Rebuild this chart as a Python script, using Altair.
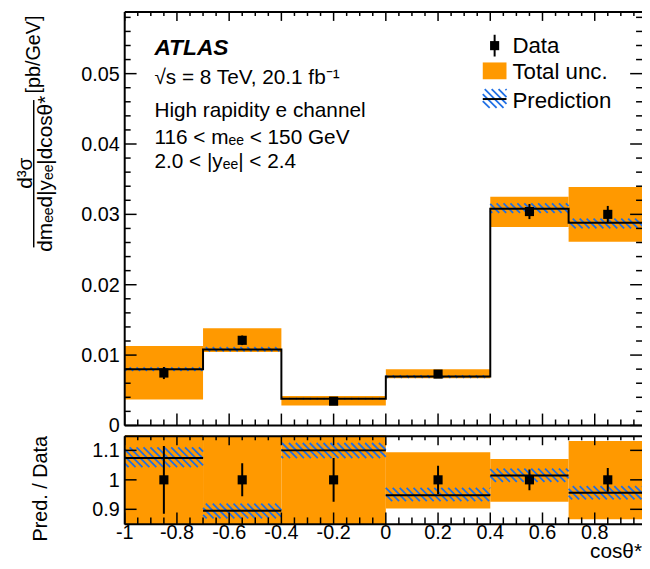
import altair as alt
import pandas as pd
import numpy as np

# ---------------- data ----------------
bin_lo = [-1.0, -0.7, -0.4, 0.0, 0.4, 0.7]
bin_hi = [-0.7, -0.4, 0.0, 0.4, 0.7, 1.0]
bin_center = [-0.85, -0.55, -0.2, 0.2, 0.55, 0.85]
step_edges = [-1.0, -0.7, -0.4, 0.0, 0.4, 0.7, 1.0]

data_xs = [0.00745, 0.0121, 0.00345, 0.0073, 0.0304, 0.0300]
data_err = [0.00086, 0.00068, 0.00026, 0.00035, 0.00107, 0.0012]
unc_lo = [0.0037, 0.01045, 0.00285, 0.0067, 0.0282, 0.0261]
unc_hi = [0.0113, 0.0138, 0.0042, 0.0080, 0.0325, 0.0339]
pred = [0.0080, 0.0108, 0.0038, 0.00694, 0.0308, 0.0288]
pred_lo = [0.00777, 0.01051, 0.00371, 0.00677, 0.0302, 0.0280]
pred_hi = [0.00827, 0.01112, 0.00388, 0.0071, 0.03156, 0.0294]

ratio_pred = [1.074, 0.895, 1.100, 0.948, 1.015, 0.956]
ratio_pred_lo = [1.043, 0.869, 1.074, 0.928, 0.993, 0.934]
ratio_pred_hi = [1.110, 0.919, 1.125, 0.973, 1.038, 0.979]
ratio_data = [1.0, 1.0, 1.0, 1.0, 1.0, 1.0]
ratio_data_err = [0.115, 0.056, 0.074, 0.048, 0.035, 0.040]
ratio_unc_lo = [0.50, 0.84, 0.82, 0.903, 0.926, 0.866]
ratio_unc_hi = [1.50, 1.145, 1.22, 1.094, 1.071, 1.132]

x_major = [-1.0, -0.8, -0.6, -0.4, -0.2, 0.0, 0.2, 0.4, 0.6, 0.8]
x_major_labels = ["-1", "-0.8", "-0.6", "-0.4", "-0.2", "0", "0.2", "0.4", "0.6", "0.8"]
x_minor = [v for v in np.round(np.arange(-1.0, 0.98, 0.05), 2)
           if not any(abs(v - m) < 1e-9 for m in x_major)]
y1_major = [0.0, 0.01, 0.02, 0.03, 0.04, 0.05]
y1_labels = ["0", "0.01", "0.02", "0.03", "0.04", "0.05"]
y1_minor = [v for v in np.round(np.arange(0.0, 0.0589, 0.002), 3)
            if not any(abs(v - m) < 1e-9 for m in y1_major)]
y2_major = [0.9, 1.0, 1.1]
y2_labels = ["0.9", "1", "1.1"]

# ---------------- geometry / style ----------------
W, H1, H2 = 523, 419, 90
LEFT = 118
PX_PER_X = 264.0
X_DOM = [-1.0, -1.0 + W / PX_PER_X]
Y1_DOM = [0.0, 0.0589]
Y2_DOM = [0.849, 1.151]
SX = PX_PER_X
SY1 = H1 / (Y1_DOM[1] - Y1_DOM[0])
SY2 = H2 / (Y2_DOM[1] - Y2_DOM[0])
ORANGE = "#FF9900"
BLUE = "#1f6fe5"
FONT = "Liberation Sans"

xs = alt.Scale(domain=X_DOM, nice=False, zero=False)
y1s = alt.Scale(domain=Y1_DOM, nice=False, zero=False)
y2s = alt.Scale(domain=Y2_DOM, nice=False, zero=False)


def hatch(lo_x, hi_x, lo_y, hi_y, sx, sy, spacing=7.0):
    rows = []
    for xl, xr, a, b in zip(lo_x, hi_x, lo_y, hi_y):
        h = (b - a) * sy
        xl_px, xr_px = xl * sx, xr * sx
        c = np.floor((xl_px - h) / spacing) * spacing
        while c < xr_px:
            t0 = max(0.0, (xl_px - c) / h)
            t1 = min(1.0, (xr_px - c) / h)
            if t1 > t0:
                rows.append(dict(x=(c + t0 * h) / sx, x2=(c + t1 * h) / sx,
                                 y=b - t0 * (b - a), y2=b - t1 * (b - a)))
            c += spacing
    return pd.DataFrame(rows)


def hatch_px(x0, x1, y0, y1, spacing=7.0):
    rows = []
    h = y1 - y0
    c = np.floor((x0 - h) / spacing) * spacing
    while c < x1:
        t0 = max(0.0, (x0 - c) / h)
        t1 = min(1.0, (x1 - c) / h)
        if t1 > t0:
            rows.append(dict(x=c + t0 * h, x2=c + t1 * h, y=y0 + t0 * h, y2=y0 + t1 * h))
        c += spacing
    return pd.DataFrame(rows)


one = pd.DataFrame({"a": [0]})

bins = pd.DataFrame(dict(lo=bin_lo, hi=bin_hi, c=bin_center,
                         d=data_xs, dlo=[v - e for v, e in zip(data_xs, data_err)],
                         dhi=[v + e for v, e in zip(data_xs, data_err)],
                         ulo=unc_lo, uhi=unc_hi,
                         r=ratio_pred, rd=ratio_data,
                         rdlo=[v - e for v, e in zip(ratio_data, ratio_data_err)],
                         rdhi=[v + e for v, e in zip(ratio_data, ratio_data_err)],
                         rulo=ratio_unc_lo, ruhi=ratio_unc_hi))
step_df = pd.DataFrame(dict(x=step_edges, y=pred + [pred[-1]]))
hatch_top = hatch(bin_lo, bin_hi, pred_lo, pred_hi, SX, SY1)
hatch_bot = hatch(bin_lo, bin_hi, ratio_pred_lo, ratio_pred_hi, SX, SY2)
leg_hatch = hatch_px(362, 386, 79, 98)


def X(f):
    return alt.X(f, scale=xs, axis=None)


def xticks(vals, length, height):
    df = pd.DataFrame({"v": vals})
    base = alt.Chart(df).mark_rule(color="black", strokeWidth=1.5)
    return [base.encode(x=X("v:Q"), y=alt.value(1), y2=alt.value(length[0])),
            base.encode(x=X("v:Q"), y=alt.value(height), y2=alt.value(height - length[1]))]


def yticks(vals, length, yscale):
    df = pd.DataFrame({"v": vals})
    base = alt.Chart(df).mark_rule(color="black", strokeWidth=1.5)
    Y = alt.Y("v:Q", scale=yscale, axis=None)
    return [base.encode(y=Y, x=alt.value(0), x2=alt.value(length)),
            base.encode(y=Y, x=alt.value(W), x2=alt.value(W - length))]


def ylabels(vals, labels, yscale):
    df = pd.DataFrame({"v": vals, "t": labels})
    return alt.Chart(df).mark_text(font=FONT, fontSize=20, color="black", align="right",
                                   baseline="middle", dy=1).encode(
        y=alt.Y("v:Q", scale=yscale, axis=None), x=alt.value(-5), text="t:N")


def frame(height):
    return [
        alt.Chart(one).mark_rule(color="black", strokeWidth=2).encode(
            x=alt.value(0), x2=alt.value(W), y=alt.value(1)),
        alt.Chart(one).mark_rule(color="black", strokeWidth=2).encode(
            x=alt.value(0), x2=alt.value(W), y=alt.value(height)),
        alt.Chart(one).mark_rule(color="black", strokeWidth=2).encode(
            x=alt.value(0), y=alt.value(1), y2=alt.value(height)),
    ]


def txt(text, x, y, size=21, **kw):
    return alt.Chart(one).mark_text(text=text, font=FONT, fontSize=size, color="black",
                                    align=kw.pop("align", "left"),
                                    baseline=kw.pop("baseline", "alphabetic"),
                                    **kw).encode(x=alt.value(x), y=alt.value(y))

# ---------------- top panel ----------------
Y1 = lambda f: alt.Y(f, scale=y1s, axis=None)

t_unc = alt.Chart(bins).mark_rect(color=ORANGE, clip=True).encode(
    x=X("lo:Q"), x2="hi:Q", y=Y1("ulo:Q"), y2="uhi:Q")
t_hatch = alt.Chart(hatch_top).mark_rule(color=BLUE, strokeWidth=1.8, clip=True).encode(
    x=X("x:Q"), x2="x2:Q", y=Y1("y:Q"), y2="y2:Q")
t_step = alt.Chart(step_df).mark_line(interpolate="step-after", color="black",
                                      strokeWidth=2, clip=True).encode(
    x=X("x:Q"), y=Y1("y:Q"))
t_err = alt.Chart(bins).mark_rule(color="black", strokeWidth=2).encode(
    x=X("c:Q"), y=Y1("dlo:Q"), y2="dhi:Q")
t_pts = alt.Chart(bins).mark_square(color="black", size=85, opacity=1).encode(
    x=X("c:Q"), y=Y1("d:Q"))

t_ticks = (xticks(x_major, (10, 12), H1) + xticks(x_minor, (5, 6), H1)
           + yticks(y1_major, 12, y1s) + yticks(y1_minor, 6, y1s))

t_text = [
    ylabels(y1_major, y1_labels, y1s),
    txt("ATLAS", 30, 44, size=23, fontStyle="italic", fontWeight="bold"),
    txt("\u221as = 8 TeV, 20.1 fb\u207b\u00b9", 30, 74),
    txt("High rapidity e channel", 30, 107),
    txt("116 < m\u2091\u2091 < 150 GeV", 30, 134),
    txt("2.0 < |y\u2091\u2091| < 2.4", 30, 159),
    txt("Data", 392, 42, size=22.5),
    txt("Total unc.", 392, 69, size=22.5),
    txt("Prediction", 392, 98, size=22.5),
    txt("d\u00b3\u03c3", -94, 164, angle=270, align="center"),
    txt("dm\u2091\u2091d|y\u2091\u2091|dcos\u03b8*", -74, 164.5, angle=270, align="center"),
    txt("[pb/GeV]", -86, 44, size=20, angle=270, align="center"),
]
t_misc = [
    alt.Chart(one).mark_rule(color="black", strokeWidth=1.5).encode(
        x=alt.value(-92), y=alt.value(90), y2=alt.value(239)),
    alt.Chart(one).mark_rule(color="black", strokeWidth=2).encode(
        x=alt.value(374), y=alt.value(24), y2=alt.value(46)),
    alt.Chart(one).mark_square(color="black", size=85, opacity=1).encode(
        x=alt.value(374), y=alt.value(35)),
    alt.Chart(one).mark_rect(color=ORANGE).encode(
        x=alt.value(362), x2=alt.value(386), y=alt.value(52), y2=alt.value(69)),
    alt.Chart(leg_hatch).mark_rule(color=BLUE, strokeWidth=1.8).encode(
        x=alt.X("x:Q", scale=None, axis=None), x2="x2:Q",
        y=alt.Y("y:Q", scale=None, axis=None), y2="y2:Q"),
    alt.Chart(one).mark_rule(color="black", strokeWidth=2).encode(
        x=alt.value(362), x2=alt.value(386), y=alt.value(89)),
]

top = alt.layer(t_unc, t_hatch, t_step, t_err, t_pts, *t_ticks, *frame(H1),
                *t_text, *t_misc).properties(width=W, height=H1)

# ---------------- ratio panel ----------------
Y2 = lambda f: alt.Y(f, scale=y2s, axis=None)

b_unc = alt.Chart(bins).mark_rect(color=ORANGE, clip=True).encode(
    x=X("lo:Q"), x2="hi:Q", y=Y2("rulo:Q"), y2="ruhi:Q")
b_hatch = alt.Chart(hatch_bot).mark_rule(color=BLUE, strokeWidth=1.8, clip=True).encode(
    x=X("x:Q"), x2="x2:Q", y=Y2("y:Q"), y2="y2:Q")
b_pred = alt.Chart(bins).mark_rule(color="black", strokeWidth=2, clip=True).encode(
    x=X("lo:Q"), x2="hi:Q", y=Y2("r:Q"))
b_err = alt.Chart(bins).mark_rule(color="black", strokeWidth=2, clip=True).encode(
    x=X("c:Q"), y=Y2("rdlo:Q"), y2="rdhi:Q")
b_pts = alt.Chart(bins).mark_square(color="black", size=85, opacity=1).encode(
    x=X("c:Q"), y=Y2("rd:Q"))

b_ticks = (xticks(x_major, (10, 12), H2) + xticks(x_minor, (5, 7), H2)
           + yticks(y2_major, 12, y2s))
xlab_df = pd.DataFrame({"v": x_major, "t": x_major_labels})
b_text = [
    ylabels(y2_major, y2_labels, y2s),
    alt.Chart(xlab_df).mark_text(font=FONT, fontSize=20, color="black", align="center",
                                 baseline="alphabetic").encode(
        x=X("v:Q"), y=alt.value(H2 + 15), text="t:N"),
    txt("Pred. / Data", -79, 54, size=20, angle=270, align="center"),
    txt("cos\u03b8*", W, H2 + 34, size=21, align="right"),
]

bottom = alt.layer(b_unc, b_hatch, b_pred, b_err, b_pts, *b_ticks, *frame(H2),
                   *b_text).properties(width=W, height=H2)

chart = alt.vconcat(top, bottom, spacing=10, bounds="flush").properties(
    autosize=alt.AutoSizeParams(type="none"),
    padding={"left": LEFT, "top": 0, "right": 0, "bottom": 553},
).configure_view(stroke=None)

chart.save("out.html", embed_options={"renderer": "svg", "actions": False})
